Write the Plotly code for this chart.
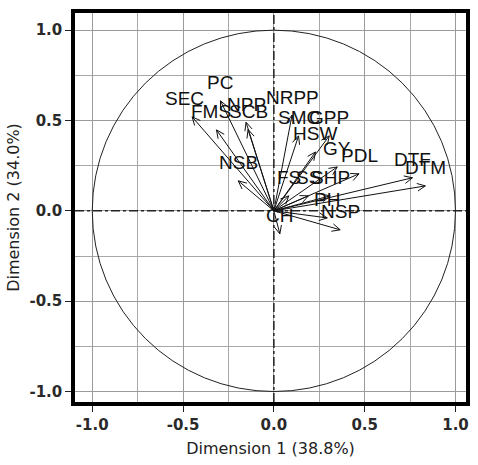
import numpy as np
import plotly.graph_objects as go

# Variable loadings on the first two principal dimensions
variables = ["SEC", "PC", "NPP", "FMS", "SCB", "NRPP", "SMC", "GPP", "HSW", "GY",
             "PDL", "DTF", "DTM", "NSB", "FS", "SS", "SHP", "PH", "NSP", "CH"]
dim1 = [-0.45, -0.294, -0.153, -0.316, -0.142, 0.10, 0.136, 0.305, 0.229, 0.349,
        0.469, 0.763, 0.834, -0.196, 0.082, 0.19, 0.31, 0.294, 0.365, 0.033]
dim2 = [0.52, 0.609, 0.49, 0.448, 0.45, 0.53, 0.415, 0.415, 0.326, 0.243,
        0.205, 0.183, 0.138, 0.166, 0.083, 0.083, 0.083, -0.039, -0.105, -0.127]

x_title = "Dimension 1 (38.8%)"
y_title = "Dimension 2 (34.0%)"
tick_vals = [-1.0, -0.5, 0.0, 0.5, 1.0]
tick_text = ["-1.0", "-0.5", "0.0", "0.5", "1.0"]

W, H = 478, 465
margin = dict(l=75, r=8, t=13, b=63)
xr = [-1.095, 1.058]
yr = [-1.058, 1.095]

# pixel scale of each axis, used to shape arrowheads on screen
sx = (W - margin["l"] - margin["r"]) / (xr[1] - xr[0])
sy = (H - margin["t"] - margin["b"]) / (yr[1] - yr[0])

seg_x, seg_y = [], []
head_len, head_ang = 9.0, np.radians(25)
for vx, vy in zip(dim1, dim2):
    seg_x += [0, vx, None]
    seg_y += [0, vy, None]
    px, py = vx * sx, vy * sy
    n = np.hypot(px, py)
    ux, uy = px / n, py / n
    for a in (head_ang, -head_ang):
        bx = ux * np.cos(a) - uy * np.sin(a)
        by = ux * np.sin(a) + uy * np.cos(a)
        seg_x += [vx, vx - head_len * bx / sx, None]
        seg_y += [vy, vy - head_len * by / sy, None]

fig = go.Figure()
fig.add_trace(go.Scatter(x=seg_x, y=seg_y, mode="lines",
                         line=dict(color="#111111", width=1),
                         hoverinfo="skip", showlegend=False))

# labels sit just above each arrow tip; a couple are nudged sideways
label_dx = {"SEC": -8, "FMS": -5}
for name, vx, vy in zip(variables, dim1, dim2):
    fig.add_annotation(x=vx, y=vy, text=name, showarrow=False, yshift=18,
                       xshift=label_dx.get(name, 0),
                       font=dict(family="Liberation Sans", size=19, color="#111111"))

# unit correlation circle
fig.add_shape(type="circle", x0=-1, y0=-1, x1=1, y1=1, xref="x", yref="y",
              line=dict(color="#222222", width=1), layer="above")
# dash-dot reference axes through the origin
fig.add_shape(type="line", x0=xr[0], x1=xr[1], y0=0, y1=0, xref="x", yref="y",
              line=dict(color="#222222", width=1.5, dash="dashdot"))
fig.add_shape(type="line", x0=0, x1=0, y0=yr[0], y1=yr[1], xref="x", yref="y",
              line=dict(color="#222222", width=1.5, dash="dashdot"))

axis_common = dict(
    tickvals=tick_vals, ticktext=tick_text,
    showgrid=True, gridcolor="#9a9a9a", gridwidth=1,
    minor=dict(dtick=0.25, tick0=0, showgrid=True, gridcolor="#a8a8a8", gridwidth=1),
    zeroline=False, showline=True, linecolor="black", linewidth=3.5, mirror=True,
    ticks="outside", ticklen=6, tickcolor="#222222", tickwidth=1,
    tickfont=dict(family="DejaVu Sans", size=15, color="#2a2a2a", weight="bold"),
)

fig.update_xaxes(range=xr, **axis_common,
                 title=dict(text=x_title, standoff=11,
                            font=dict(family="DejaVu Sans", size=16, color="#222222")))
fig.update_yaxes(range=yr, **axis_common,
                 title=dict(text=y_title, standoff=7,
                            font=dict(family="DejaVu Sans", size=16, color="#222222")))

fig.update_layout(width=W, height=H, margin=margin,
                  plot_bgcolor="white", paper_bgcolor="white")

fig.write_html("out.html")
